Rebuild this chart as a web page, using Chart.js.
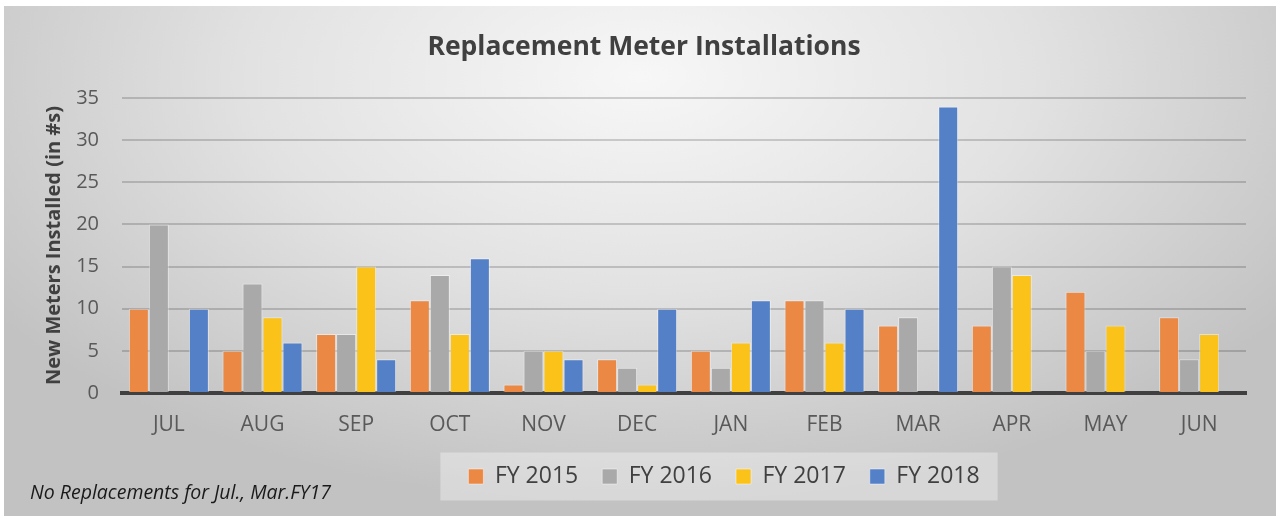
<!DOCTYPE html>
<html>
<head>
<meta charset="utf-8">
<title>Replacement Meter Installations</title>
<script src="https://cdn.jsdelivr.net/npm/chart.js@4.4.1/dist/chart.umd.min.js"></script>
<style>
    html, body { margin: 0; padding: 0; background: #ffffff; }
    #wrap { position: absolute; left: 4px; top: 6px; width: 1272px; height: 510px; }
</style>
</head>
<body>
<div id="wrap"><canvas id="meterChart"></canvas></div>
<script>
// Months of the fiscal year (Jul - Jun)
const months = ['JUL', 'AUG', 'SEP', 'OCT', 'NOV', 'DEC', 'JAN', 'FEB', 'MAR', 'APR', 'MAY', 'JUN'];

// New meters installed per month, one array per fiscal year
const fy2015 = [10, 5, 7, 11, 1, 4, 5, 11, 8, 8, 12, 9];
const fy2016 = [20, 13, 7, 14, 5, 3, 3, 11, 9, 15, 5, 4];
const fy2017 = [0, 9, 15, 7, 5, 1, 6, 6, 0, 14, 8, 7];
const fy2018 = [10, 6, 4, 16, 4, 10, 11, 10, 34, null, null, null];

const seriesNames = ['FY 2015', 'FY 2016', 'FY 2017', 'FY 2018'];
const seriesColors = ['#eb8844', '#a9a9a9', '#fbc31a', '#5480c8'];

const yTicks = [0, 5, 10, 15, 20, 25, 30, 35];
const footnote = 'No Replacements for Jul., Mar.FY17';

const FONT = '"Open Sans", "DejaVu Sans", sans-serif';
const LEGEND_SHIFT = 80; // legend sits right of centre in the original

// Paints the grey radial background, the legend box and the footnote
const backgroundPlugin = {
    id: 'officeBackground',
    afterLayout(chart) {
        // push the legend to the right before its hit boxes are built
        chart.legend.left += LEGEND_SHIFT;
        chart.legend.right += LEGEND_SHIFT;
    },
    beforeDraw(chart) {
        const ctx = chart.ctx;
        const w = chart.width, h = chart.height;
        ctx.save();
        // elliptical radial gradient: light near the title, darker at the edges
        ctx.translate(w * 0.5, 70);
        ctx.scale(1, 0.55);
        const grad = ctx.createRadialGradient(0, 0, 0, 0, 0, 780);
        grad.addColorStop(0, '#f7f7f7');
        grad.addColorStop(0.5, '#e2e2e2');
        grad.addColorStop(1, '#c2c2c2');
        ctx.fillStyle = grad;
        ctx.fillRect(-w, -h * 2, w * 2, h * 4);
        ctx.restore();

        // legend box
        const boxes = chart.legend.legendHitBoxes;
        if (boxes && boxes.length) {
            const first = boxes[0];
            const last = boxes[boxes.length - 1];
            const cy = first.top + first.height / 2;
            const x0 = first.left - 28;
            const x1 = last.left + last.width + 18;
            ctx.save();
            ctx.fillStyle = 'rgba(255, 255, 255, 0.35)';
            ctx.fillRect(x0, cy - 24, x1 - x0, 48);
            ctx.restore();
        }
    },
    afterDraw(chart) {
        // footnote in the bottom-left corner
        const ctx = chart.ctx;
        ctx.save();
        ctx.font = 'italic 19.5px ' + FONT;
        ctx.fillStyle = '#1a1a1a';
        ctx.textAlign = 'left';
        ctx.textBaseline = 'middle';
        ctx.fillText(footnote, 26, 487);
        ctx.restore();
    }
};

const datasets = [fy2015, fy2016, fy2017, fy2018].map((values, i) => ({
    label: seriesNames[i],
    data: values,
    backgroundColor: seriesColors[i],
    borderColor: 'rgba(255, 255, 255, 0.45)',
    borderWidth: 1,
    borderSkipped: 'bottom',
    categoryPercentage: 0.855,
    barPercentage: 1.0,
}));

const ctx = document.getElementById('meterChart').getContext('2d');

const meterChart = new Chart(ctx, {
    type: 'bar',
    data: {
        labels: months,
        datasets: datasets,
    },
    plugins: [backgroundPlugin],
    options: {
        responsive: true,
        maintainAspectRatio: false,
        animation: false,
        layout: {
            padding: { left: 38, right: 30, top: 25.5, bottom: 18 },
        },
        plugins: {
            title: {
                display: true,
                text: 'Replacement Meter Installations',
                color: '#404040',
                font: { family: FONT, size: 26.5, weight: 'bold' },
                padding: { top: 0, bottom: 34.7 },
            },
            legend: {
                position: 'bottom',
                labels: {
                    color: '#404040',
                    font: { family: FONT, size: 23 },
                    boxWidth: 15,
                    boxHeight: 15,
                    padding: 24,
                },
            },
            tooltip: { enabled: false },
        },
        scales: {
            x: {
                grid: { display: false, drawTicks: false },
                border: { display: true, color: '#404040', width: 4 },
                ticks: {
                    color: '#595959',
                    font: { family: FONT, size: 21 },
                    padding: 19,
                },
                afterFit(scale) { scale.height = 48; },
            },
            y: {
                min: 0,
                max: 35,
                afterBuildTicks(scale) {
                    scale.ticks = yTicks.map(v => ({ value: v }));
                },
                grid: { color: 'rgba(0, 0, 0, 0.17)', lineWidth: 2, drawTicks: false },
                border: { display: false },
                ticks: {
                    color: '#595959',
                    font: { family: FONT, size: 20 },
                    padding: 23,
                },
                title: {
                    display: true,
                    text: 'New Meters Installed (in #s)',
                    color: '#404040',
                    font: { family: FONT, size: 20, weight: 'bold' },
                    padding: 0,
                },
                afterFit(scale) { scale.width = 80; },
            },
        },
    },
});
</script>
</body>
</html>
